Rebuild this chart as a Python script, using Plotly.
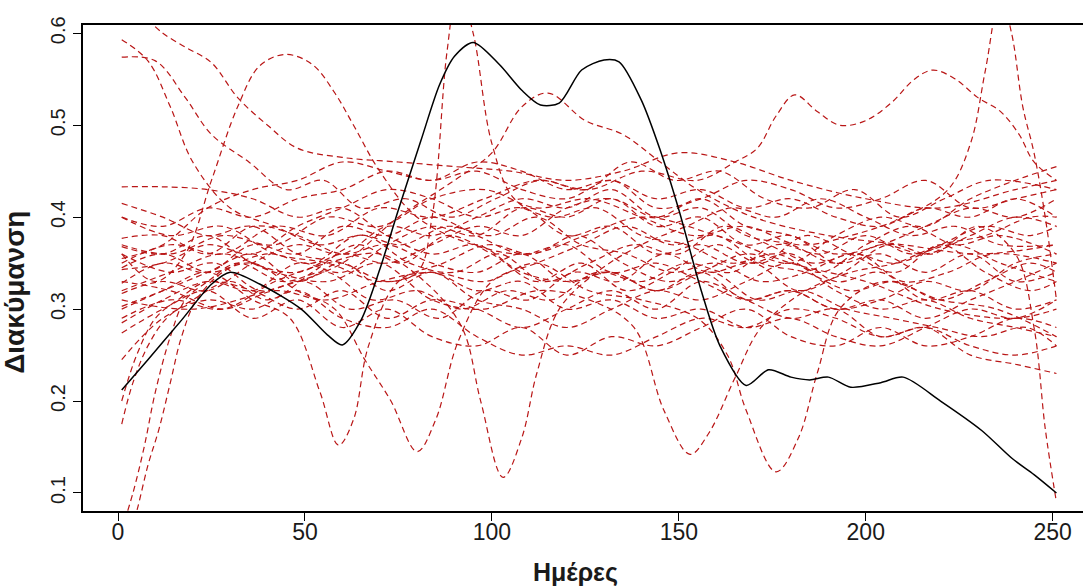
import plotly.graph_objects as go

# ---------------- data ----------------
x_ticks = [0, 50, 100, 150, 200, 250]
y_ticks = [0.1, 0.2, 0.3, 0.4, 0.5, 0.6]
y_tick_labels = ["0.1", "0.2", "0.3", "0.4", "0.5", "0.6"]

black_days = [1, 8, 17, 25, 30, 38, 49, 56, 60, 65, 70, 75, 81, 86, 90, 95, 102, 108, 113, 118,
              124, 130, 134, 140, 145, 150, 156, 161, 168, 174, 180, 185, 190, 196, 204, 210,
              220, 231, 239, 245, 251]
black_values = [0.212, 0.245, 0.288, 0.327, 0.340, 0.327, 0.300, 0.272, 0.261, 0.288, 0.343,
                0.408, 0.483, 0.544, 0.575, 0.590, 0.566, 0.538, 0.522, 0.524, 0.560, 0.571,
                0.569, 0.527, 0.473, 0.408, 0.320, 0.260, 0.217, 0.234, 0.226, 0.223, 0.226,
                0.215, 0.220, 0.226, 0.200, 0.168, 0.138, 0.120, 0.100]

grid_days = [1, 12, 24, 36, 48, 60, 72, 84, 96, 108, 120, 132, 144, 156, 168, 180, 192, 204,
             216, 228, 240, 251]

red_days = [
    [1, 8, 14, 20, 30, 42, 54, 66, 78, 90, 102, 114, 126, 138, 150, 162, 174, 186, 198, 210, 222, 234, 251],
    [1, 10, 18, 25, 35, 45, 55, 65, 77, 89, 101, 113, 125, 137, 149, 161, 173, 185, 197, 209, 221, 233, 251],
    [8, 12, 18, 25, 32, 40, 48, 60, 75, 90, 105, 120, 135, 150, 165, 180, 200, 220, 240, 251],
    [1, 10, 18, 25, 32, 38, 45, 52, 58, 63, 70, 80, 95, 110, 125, 140, 160, 180, 200, 220, 240, 251],
    [1, 12, 24, 36, 46, 54, 59, 63, 67, 75, 87, 99, 111, 123, 135, 147, 159, 171, 183, 195, 207, 219, 231, 243, 251],
    [1, 12, 24, 36, 48, 58, 66, 73, 80, 85, 91, 100, 112, 124, 136, 148, 160, 172, 184, 196, 208, 220, 232, 244, 251],
    [1, 14, 28, 42, 56, 70, 80, 84, 88, 91, 95, 100, 106, 116, 128, 140, 152, 164, 176, 188, 200, 212, 224, 236, 251],
    [1, 14, 28, 42, 56, 70, 82, 92, 97, 103, 108, 112, 118, 128, 140, 152, 164, 176, 188, 200, 212, 224, 236, 251],
    [1, 14, 28, 42, 56, 70, 84, 98, 112, 126, 138, 146, 153, 158, 165, 172, 184, 196, 208, 220, 232, 244, 251],
    [1, 14, 28, 42, 56, 70, 84, 98, 112, 126, 140, 155, 163, 168, 176, 182, 187, 193, 205, 220, 235, 251],
    [1, 14, 28, 42, 56, 70, 84, 98, 112, 126, 140, 155, 165, 171, 176, 181, 187, 193, 200, 207, 213, 218,
     224, 230, 236, 241, 245, 251],
    [1, 14, 28, 42, 56, 70, 84, 98, 112, 126, 140, 154, 168, 182, 196, 210, 222, 228, 232, 236, 239, 242,
     245, 248, 251],
    [1, 14, 26, 38, 50, 62, 74, 86, 98, 110, 122, 134, 146, 158, 170, 182, 194, 206, 218, 230, 240, 245, 248, 251],
    [1, 4, 7, 10, 14, 18, 24, 32, 44, 56, 68, 80, 92, 104, 116, 128, 140, 152, 164, 176, 188, 200, 212, 224, 236, 251],
    [2, 5, 8, 11, 14, 17, 21, 28, 40, 52, 64, 76, 88, 100, 112, 124, 136, 148, 160, 172, 184, 196, 208, 220,
     232, 244, 251],
    [1, 4, 8, 13, 20, 30, 40, 52, 64, 76, 88, 100, 112, 124, 136, 148, 160, 172, 184, 196, 208, 220, 232, 244, 251],
    [1, 5, 10, 16, 24, 36, 48, 60, 72, 84, 96, 108, 120, 132, 144, 156, 168, 180, 192, 204, 216, 228, 240, 251],
    grid_days, grid_days, grid_days, grid_days, grid_days, grid_days, grid_days,
    grid_days, grid_days, grid_days, grid_days, grid_days, grid_days,
    [1, 20, 40, 60, 75, 90, 100, 108, 115, 125, 135, 145, 155, 170, 190, 210, 230, 251],
]

red_values = [
    [0.593, 0.570, 0.520, 0.460, 0.410, 0.390, 0.370, 0.380, 0.350, 0.340, 0.360, 0.330, 0.350, 0.370, 0.360,
     0.390, 0.370, 0.350, 0.360, 0.330, 0.340, 0.360, 0.350],
    [0.574, 0.570, 0.530, 0.490, 0.460, 0.430, 0.440, 0.410, 0.420, 0.400, 0.420, 0.440, 0.430, 0.460, 0.440,
     0.450, 0.420, 0.410, 0.430, 0.400, 0.420, 0.440, 0.430],
    [0.615, 0.600, 0.585, 0.568, 0.530, 0.500, 0.475, 0.465, 0.460, 0.455, 0.450, 0.440, 0.450, 0.470, 0.460,
     0.440, 0.420, 0.410, 0.430, 0.440],
    [0.360, 0.330, 0.360, 0.440, 0.520, 0.565, 0.577, 0.566, 0.535, 0.500, 0.450, 0.400, 0.370, 0.360, 0.380,
     0.400, 0.380, 0.350, 0.330, 0.300, 0.290, 0.300],
    [0.300, 0.320, 0.340, 0.310, 0.290, 0.210, 0.152, 0.180, 0.260, 0.330, 0.350, 0.370, 0.360, 0.380, 0.350,
     0.330, 0.340, 0.310, 0.320, 0.300, 0.290, 0.280, 0.270, 0.280, 0.260],
    [0.345, 0.360, 0.340, 0.350, 0.320, 0.300, 0.245, 0.200, 0.145, 0.180, 0.265, 0.330, 0.350, 0.370, 0.390,
     0.370, 0.380, 0.350, 0.340, 0.320, 0.330, 0.310, 0.330, 0.350, 0.340],
    [0.400, 0.380, 0.390, 0.360, 0.350, 0.330, 0.340, 0.400, 0.580, 0.650, 0.600, 0.480, 0.420, 0.400, 0.410,
     0.380, 0.370, 0.350, 0.360, 0.340, 0.370, 0.390, 0.370, 0.380, 0.360],
    [0.290, 0.310, 0.300, 0.330, 0.350, 0.360, 0.330, 0.280, 0.200, 0.117, 0.160, 0.230, 0.300, 0.340, 0.370,
     0.390, 0.410, 0.400, 0.420, 0.400, 0.380, 0.390, 0.370, 0.370],
    [0.320, 0.340, 0.360, 0.340, 0.330, 0.350, 0.310, 0.300, 0.320, 0.310, 0.280, 0.190, 0.142, 0.165, 0.225,
     0.280, 0.320, 0.340, 0.350, 0.370, 0.380, 0.400, 0.400],
    [0.330, 0.320, 0.300, 0.320, 0.310, 0.330, 0.340, 0.330, 0.350, 0.320, 0.310, 0.290, 0.250, 0.190, 0.123,
     0.160, 0.230, 0.300, 0.330, 0.310, 0.300, 0.270],
    [0.350, 0.370, 0.360, 0.390, 0.380, 0.410, 0.400, 0.420, 0.440, 0.430, 0.450, 0.440, 0.460, 0.475, 0.510,
     0.533, 0.515, 0.500, 0.505, 0.525, 0.550, 0.560, 0.550, 0.530, 0.515, 0.490, 0.460, 0.440],
    [0.370, 0.360, 0.380, 0.370, 0.400, 0.390, 0.420, 0.430, 0.410, 0.420, 0.400, 0.380, 0.390, 0.370, 0.380,
     0.400, 0.430, 0.480, 0.560, 0.640, 0.600, 0.520, 0.470, 0.400, 0.310],
    [0.360, 0.340, 0.350, 0.320, 0.330, 0.300, 0.310, 0.290, 0.320, 0.310, 0.340, 0.330, 0.360, 0.340, 0.350,
     0.320, 0.340, 0.370, 0.360, 0.390, 0.360, 0.280, 0.170, 0.090],
    [0.060, 0.100, 0.150, 0.210, 0.270, 0.310, 0.330, 0.350, 0.330, 0.340, 0.310, 0.320, 0.300, 0.320, 0.310,
     0.340, 0.330, 0.350, 0.340, 0.370, 0.360, 0.380, 0.360, 0.370, 0.350, 0.330],
    [0.040, 0.080, 0.130, 0.170, 0.220, 0.270, 0.310, 0.340, 0.360, 0.350, 0.380, 0.370, 0.390, 0.380, 0.400,
     0.370, 0.360, 0.340, 0.350, 0.330, 0.340, 0.360, 0.350, 0.370, 0.390, 0.380, 0.390],
    [0.175, 0.220, 0.260, 0.290, 0.310, 0.330, 0.310, 0.340, 0.370, 0.350, 0.380, 0.360, 0.330, 0.350, 0.320,
     0.340, 0.370, 0.350, 0.380, 0.360, 0.340, 0.370, 0.340, 0.320, 0.330],
    [0.200, 0.250, 0.290, 0.310, 0.330, 0.320, 0.350, 0.340, 0.370, 0.390, 0.380, 0.410, 0.400, 0.420, 0.390,
     0.400, 0.370, 0.380, 0.350, 0.360, 0.340, 0.360, 0.330, 0.340],
    [0.245, 0.290, 0.310, 0.300, 0.320, 0.290, 0.280, 0.300, 0.270, 0.250, 0.260, 0.250, 0.270, 0.290, 0.280,
     0.300, 0.290, 0.270, 0.280, 0.260, 0.250, 0.260],
    [0.274, 0.300, 0.320, 0.290, 0.310, 0.280, 0.300, 0.270, 0.260, 0.280, 0.250, 0.270, 0.260, 0.280, 0.300,
     0.270, 0.260, 0.280, 0.260, 0.270, 0.290, 0.280],
    [0.285, 0.310, 0.330, 0.320, 0.300, 0.320, 0.290, 0.310, 0.300, 0.280, 0.300, 0.320, 0.300, 0.330, 0.310,
     0.290, 0.300, 0.270, 0.280, 0.250, 0.240, 0.230],
    [0.303, 0.320, 0.340, 0.360, 0.330, 0.350, 0.320, 0.340, 0.310, 0.300, 0.280, 0.300, 0.320, 0.310, 0.330,
     0.350, 0.320, 0.300, 0.310, 0.290, 0.280, 0.270],
    [0.317, 0.330, 0.320, 0.350, 0.370, 0.360, 0.390, 0.380, 0.400, 0.420, 0.410, 0.430, 0.400, 0.410, 0.380,
     0.370, 0.350, 0.370, 0.360, 0.380, 0.400, 0.390],
    [0.328, 0.350, 0.340, 0.370, 0.360, 0.390, 0.380, 0.400, 0.380, 0.360, 0.370, 0.340, 0.350, 0.330, 0.310,
     0.320, 0.300, 0.310, 0.290, 0.310, 0.330, 0.350],
    [0.343, 0.350, 0.370, 0.360, 0.390, 0.410, 0.430, 0.420, 0.400, 0.410, 0.380, 0.390, 0.360, 0.370, 0.350,
     0.360, 0.330, 0.340, 0.310, 0.320, 0.300, 0.310],
    [0.355, 0.370, 0.410, 0.430, 0.440, 0.460, 0.450, 0.440, 0.450, 0.430, 0.420, 0.440, 0.410, 0.420, 0.440,
     0.430, 0.410, 0.420, 0.440, 0.410, 0.420, 0.430],
    [0.368, 0.360, 0.380, 0.350, 0.340, 0.360, 0.350, 0.370, 0.390, 0.380, 0.410, 0.420, 0.400, 0.420, 0.390,
     0.380, 0.360, 0.370, 0.390, 0.410, 0.400, 0.420],
    [0.377, 0.380, 0.360, 0.390, 0.380, 0.360, 0.370, 0.350, 0.340, 0.360, 0.330, 0.340, 0.320, 0.340, 0.310,
     0.320, 0.300, 0.310, 0.330, 0.320, 0.350, 0.360],
    [0.400, 0.390, 0.410, 0.400, 0.420, 0.430, 0.450, 0.440, 0.460, 0.450, 0.430, 0.440, 0.420, 0.430, 0.410,
     0.420, 0.400, 0.390, 0.410, 0.400, 0.420, 0.400],
    [0.415, 0.400, 0.380, 0.390, 0.360, 0.350, 0.330, 0.340, 0.320, 0.330, 0.300, 0.310, 0.290, 0.300, 0.280,
     0.290, 0.270, 0.260, 0.280, 0.300, 0.290, 0.310],
    [0.433, 0.433, 0.430, 0.420, 0.400, 0.410, 0.380, 0.360, 0.370, 0.340, 0.330, 0.340, 0.320, 0.340, 0.360,
     0.350, 0.380, 0.400, 0.390, 0.420, 0.440, 0.455],
    [0.310, 0.300, 0.320, 0.350, 0.400, 0.440, 0.470, 0.520, 0.535, 0.505, 0.490, 0.460, 0.430, 0.400, 0.380,
     0.370, 0.360, 0.370],
]

# ---------------- figure ----------------
fig = go.Figure()

for d, v in zip(red_days, red_values):
    fig.add_trace(go.Scatter(
        x=d, y=v, mode="lines",
        line=dict(color="rgb(185,22,22)", width=1.2, dash="6px,4px", shape="spline", smoothing=1.0),
        hoverinfo="skip", showlegend=False,
    ))

fig.add_trace(go.Scatter(
    x=black_days, y=black_values, mode="lines",
    line=dict(color="black", width=1.5, shape="spline", smoothing=0.8),
    hoverinfo="skip", showlegend=False,
))

family = "Liberation Sans, Arial, sans-serif"

fig.update_layout(
    width=1083, height=586,
    margin=dict(l=83, r=0, t=25, b=75),
    paper_bgcolor="white", plot_bgcolor="white",
    showlegend=False,
    xaxis=dict(
        range=[-9.36, 258.1],
        tickmode="array", tickvals=x_ticks, ticktext=[str(t) for t in x_ticks],
        ticks="outside", ticklen=8, tickwidth=1.2, tickcolor="black",
        ticklabelstandoff=-8,
        showline=True, linecolor="black", linewidth=1.6, mirror=True,
        showgrid=False, zeroline=False,
        tickfont=dict(family=family, size=23, color="#1a1a1a"),
    ),
    yaxis=dict(
        range=[0.0804, 0.609],
        tickmode="array", tickvals=y_ticks, ticktext=y_tick_labels,
        ticks="outside", ticklen=8, tickwidth=1.2, tickcolor="black",
        showline=True, linecolor="black", linewidth=1.6, mirror=False,
        showgrid=False, zeroline=False,
        tickangle=-90, tickfont=dict(family=family, size=20, color="#1a1a1a"),
    ),
    annotations=[
        dict(text="<b>Ημέρες</b>", xref="paper", yref="paper", x=0.492, y=-0.127,
             xanchor="center", yanchor="middle", showarrow=False,
             font=dict(family=family, size=25, color="#1a1a1a")),
        dict(text="<b>Διακύμανση</b>", xref="paper", yref="paper", x=-0.068, y=0.449,
             xanchor="center", yanchor="middle", textangle=-90, showarrow=False,
             font=dict(family=family, size=28, color="#1a1a1a")),
    ],
)

fig.write_html("out.html", post_script="document.body.style.margin='0';",
               config={"displayModeBar": False})
